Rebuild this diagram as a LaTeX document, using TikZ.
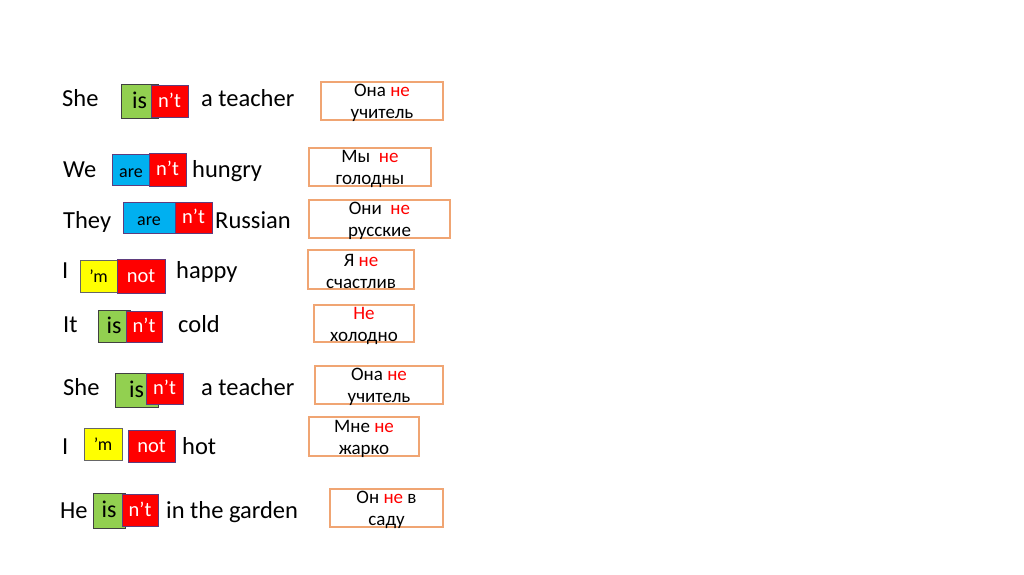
\documentclass[tikz,border=0pt]{standalone}
\usepackage{fontspec}
\setmainfont{Carlito}
\usetikzlibrary{positioning}
\definecolor{isgreen}{RGB}{146,208,80}
\definecolor{areblue}{RGB}{0,176,240}
\definecolor{ntred}{RGB}{255,0,0}
\definecolor{myellow}{RGB}{255,255,0}
\definecolor{ruframe}{RGB}{240,165,115}
\definecolor{ntline}{RGB}{95,60,125}
\newcommand{\redne}[1]{\textcolor{ntred}{#1}}
\tikzset{
    word/.style={anchor=base west, inner sep=0pt, font=\fontsize{24.5}{28}\selectfont},
    chip/.style={draw, line width=1pt, inner sep=0pt, text depth=0pt},
    isbox/.style={chip, fill=isgreen, draw=black!75, text height=14pt, font=\fontsize{24}{26}\selectfont},
    arebox/.style={chip, fill=areblue, draw=ntline, text height=15pt, font=\fontsize{18}{20}\selectfont},
    mbox/.style={chip, fill=myellow, draw=black!60, text height=12.5pt, font=\fontsize{18}{20}\selectfont},
    ntbox/.style={chip, fill=ntred, draw=ntline, text=white, text height=12.5pt, font=\fontsize{20.5}{22}\selectfont},
    rubox/.style={draw=ruframe, line width=1.5pt, inner sep=0pt},
    rutext/.style={align=center, inner sep=0pt, font=\fontsize{19}{22}\selectfont}
}

\begin{document}
\begin{tikzpicture}[x=1pt, y=-1pt]
    \useasboundingbox (0,0) rectangle (1024,574);
    % english sentences
    \node[word] (she1) at (62,106) {She};
    \node[isbox, minimum width=37pt, minimum height=34pt] (is1) at (139.5,101) {is};
    \node[ntbox, minimum width=37pt, minimum height=32pt] (nt1) at (169.5,101) {n’t};
    \node[word] (teacher1) at (201,106) {a teacher};

    \node[word] (we) at (63,177) {We};
    \node[arebox, minimum width=38pt, minimum height=31pt] (are2) at (131,169.5) {are};
    \node[ntbox, minimum width=37pt, minimum height=33pt] (nt2) at (167.5,169.5) {n’t};
    \node[word] (hungry) at (192,177) {hungry};

    \node[word] (they) at (63,228) {They};
    \node[arebox, minimum width=52pt, minimum height=31pt] (are3) at (149,217.5) {are};
    \node[ntbox, minimum width=37pt, minimum height=31pt] (nt3) at (193.5,217.5) {n’t};
    \node[word] (russian) at (215,228) {Russian};

    \node[word] (i4) at (62,278) {I};
    \node[mbox, minimum width=37pt, minimum height=32pt] (m4) at (98.5,276) {’m};
    \node[ntbox, minimum width=48pt, minimum height=34pt] (not4) at (141,276) {not};
    \node[word] (happy) at (176,278) {happy};

    \node[word] (it) at (63,332) {It};
    \node[isbox, minimum width=32pt, minimum height=32pt] (is5) at (114,326) {is};
    \node[ntbox, minimum width=36pt, minimum height=31pt] (nt5) at (144,326.5) {n’t};
    \node[word] (cold) at (178,332) {cold};

    \node[word] (she6) at (63,395) {She};
    \node[isbox, minimum width=43pt, minimum height=34pt] (is6) at (136.5,390) {is};
    \node[ntbox, minimum width=37pt, minimum height=31pt] (nt6) at (164.5,388.5) {n’t};
    \node[word] (teacher6) at (201,395) {a teacher};

    \node[word] (i7) at (62,454) {I};
    \node[mbox, minimum width=38pt, minimum height=32pt] (m7) at (103,444) {’m};
    \node[ntbox, minimum width=47pt, minimum height=32pt] (not7) at (151.5,446) {not};
    \node[word] (hot) at (182,454) {hot};

    \node[word] (he) at (60,518) {He};
    \node[isbox, minimum width=32pt, minimum height=35pt] (is8) at (109,510.5) {is};
    \node[ntbox, minimum width=36pt, minimum height=32pt] (nt8) at (140,510) {n’t};
    \node[word] (garden) at (166,518) {in the garden};

    % russian translations
    \node[rubox, minimum width=122pt, minimum height=38pt] (ru1) at (382,101) {};
    \node[rutext] (rt1) at ([yshift=-2pt]ru1.center) {Она \redne{не}\\учитель};
    \node[rubox, minimum width=122pt, minimum height=38pt] (ru2) at (370,167) {};
    \node[rutext] (rt2) at ([yshift=-2pt]ru2.center) {Мы\ \ \redne{не}\\голодны};
    \node[rubox, minimum width=141pt, minimum height=38pt] (ru3) at (379.5,219) {};
    \node[rutext] (rt3) at ([yshift=-2pt]ru3.center) {Они\ \ \redne{не}\\русские};
    \node[rubox, minimum width=106pt, minimum height=39pt] (ru4) at (361,269.5) {};
    \node[rutext] (rt4) at ([yshift=-2pt]ru4.center) {Я \redne{не}\\счастлив};
    \node[rubox, minimum width=100pt, minimum height=37pt] (ru5) at (364,323.5) {};
    \node[rutext] (rt5) at ([yshift=-2pt]ru5.center) {\redne{Не}\\холодно};
    \node[rubox, minimum width=128pt, minimum height=38pt] (ru6) at (379,385) {};
    \node[rutext] (rt6) at ([yshift=-2pt]ru6.center) {Она \redne{не}\\учитель};
    \node[rubox, minimum width=110pt, minimum height=39pt] (ru7) at (364,436.5) {};
    \node[rutext] (rt7) at ([yshift=-2pt]ru7.center) {Мне \redne{не}\\жарко};
    \node[rubox, minimum width=113pt, minimum height=38pt] (ru8) at (386.5,508) {};
    \node[rutext] (rt8) at ([yshift=-2pt]ru8.center) {Он \redne{не} в\\саду};
\end{tikzpicture}
\end{document}
